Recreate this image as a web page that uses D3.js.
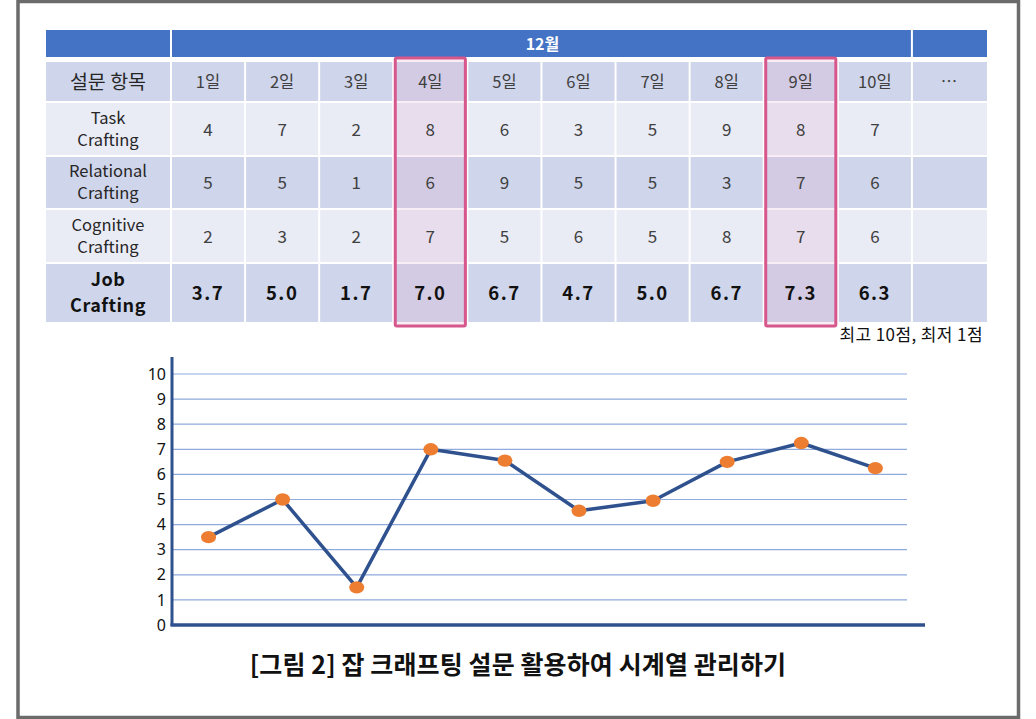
<!DOCTYPE html>
<html>
<head>
<meta charset="utf-8">
<script src="https://cdn.jsdelivr.net/npm/d3@7"></script>
<style>
  body { margin: 0; background: #fff; }
  svg { display: block; font-family: "Noto Sans CJK KR", "Noto Sans", sans-serif; }
</style>
</head>
<body>
<svg id="chart" width="1036" height="719"></svg>
<script>
// table data
var month = "12월";
var itemHeader = "설문 항목";
var days = ["1일", "2일", "3일", "4일", "5일", "6일", "7일", "8일", "9일", "10일", "…"];
var rowLabels = [["Task", "Crafting"], ["Relational", "Crafting"], ["Cognitive", "Crafting"], ["Job", "Crafting"]];
var task = [4, 7, 2, 8, 6, 3, 5, 9, 8, 7];
var relational = [5, 5, 1, 6, 9, 5, 5, 3, 7, 6];
var cognitive = [2, 3, 2, 7, 5, 6, 5, 8, 7, 6];
var jobCrafting = ["3.7", "5.0", "1.7", "7.0", "6.7", "4.7", "5.0", "6.7", "7.3", "6.3"];
var highlightDays = ["4일", "9일"];
var note = "최고 10점, 최저 1점";

// chart data (as plotted)
var plotted = [3.5, 5.0, 1.5, 7.0, 6.55, 4.55, 4.95, 6.5, 7.25, 6.25];
var yTicks = [0, 1, 2, 3, 4, 5, 6, 7, 8, 9, 10];
var caption = "[그림 2] 잡 크래프팅 설문 활용하여 시계열 관리하기";

var svg = d3.select("#chart");

// outer frame
svg.append("rect")
  .attr("x", 18).attr("y", 1.5).attr("width", 1000.5).attr("height", 716)
  .attr("fill", "#fff").attr("stroke", "#6b6b6b").attr("stroke-width", 3.5);

// columns
var x = d3.scaleBand().domain(days).range([172, 987]).paddingInner(0);
var bw = x.bandwidth();
var labelX0 = 46, labelX1 = 170;

// rows: header, day row, 4 data rows
var rowTops = [30, 62, 103, 157, 210, 264];
var rowBots = [57, 101, 155, 208, 262, 322];
var dark = "#cfd5ea", light = "#e9ebf5", blue = "#4472c4";
var rowFill = [blue, dark, light, dark, light, dark];

var table = svg.append("g");

// header row
table.append("rect").attr("x", labelX0).attr("y", rowTops[0])
  .attr("width", labelX1 - labelX0).attr("height", rowBots[0] - rowTops[0]).attr("fill", blue);
table.append("rect").attr("x", x("1일")).attr("y", rowTops[0])
  .attr("width", x("10일") + bw - 2 - x("1일")).attr("height", rowBots[0] - rowTops[0]).attr("fill", blue);
table.append("rect").attr("x", x("…")).attr("y", rowTops[0])
  .attr("width", bw).attr("height", rowBots[0] - rowTops[0]).attr("fill", blue);
table.append("text")
  .attr("x", (x("1일") + x("10일") + bw) / 2).attr("y", (rowTops[0] + rowBots[0]) / 2 + 6)
  .attr("text-anchor", "middle").attr("fill", "#fff").attr("font-weight", "bold")
  .attr("font-size", 16).text(month);

// body cells
for (var r = 1; r < 6; r++) {
  table.append("rect").attr("x", labelX0).attr("y", rowTops[r])
    .attr("width", labelX1 - labelX0).attr("height", rowBots[r] - rowTops[r]).attr("fill", rowFill[r]);
  table.selectAll(null).data(days).join("rect")
    .attr("x", function (d) { return x(d); })
    .attr("y", rowTops[r])
    .attr("width", function (d) { return d === "…" ? bw : bw - 2; })
    .attr("height", rowBots[r] - rowTops[r])
    .attr("fill", rowFill[r]);
}

// highlight tint
table.selectAll(".hl").data(highlightDays).join("rect")
  .attr("class", "hl")
  .attr("x", function (d) { return x(d) + 1; })
  .attr("y", 58).attr("width", bw - 4).attr("height", 268)
  .attr("fill", "#e6a0c8").attr("opacity", 0.18);

function cx(d) { return x(d) + (bw - 2) / 2; }
function midY(r) { return (rowTops[r] + rowBots[r]) / 2; }

// day row
table.append("text").attr("x", (labelX0 + labelX1) / 2).attr("y", midY(1) + 7)
  .attr("text-anchor", "middle").attr("font-size", 19.5).attr("fill", "#262626").text(itemHeader);
table.selectAll(null).data(days).join("text")
  .attr("x", function (d) { return cx(d); })
  .attr("y", midY(1) + 6)
  .attr("text-anchor", "middle").attr("font-size", 16.5).attr("fill", "#404040")
  .text(function (d) { return d; });

// row labels
rowLabels.forEach(function (lines, i) {
  var r = i + 2;
  var bold = i === 3;
  var fs = bold ? 18 : 16.5;
  var gap = bold ? 26 : 22;
  lines.forEach(function (ln, j) {
    table.append("text").attr("text-anchor", "middle")
      .attr("font-size", fs).attr("fill", bold ? "#111" : "#262626")
      .attr("font-weight", bold ? "bold" : "normal")
      .attr("letter-spacing", bold ? 0.5 : 0)
      .attr("x", (labelX0 + labelX1) / 2)
      .attr("y", midY(r) - gap / 2 + j * gap + fs * 0.36).text(ln);
  });
});

// values
[task, relational, cognitive, jobCrafting].forEach(function (vals, i) {
  var r = i + 2;
  var bold = i === 3;
  table.selectAll(null).data(vals).join("text")
    .attr("x", function (d, k) { return cx(days[k]); })
    .attr("y", midY(r) + 6.5)
    .attr("text-anchor", "middle")
    .attr("font-size", bold ? 18.5 : 17)
    .attr("font-weight", bold ? "bold" : "normal")
    .attr("letter-spacing", bold ? 1.5 : 0)
    .attr("fill", bold ? "#111" : "#404040")
    .text(function (d) { return d; });
});

// highlight frames
table.selectAll(".hlb").data(highlightDays).join("rect")
  .attr("class", "hlb")
  .attr("x", function (d) { return x(d) + 1; })
  .attr("y", 58).attr("width", bw - 4).attr("height", 268)
  .attr("fill", "none").attr("stroke", "#d6578c").attr("stroke-width", 3)
  .attr("rx", 1.5);

// note
svg.append("text").attr("x", 983).attr("y", 341).attr("text-anchor", "end")
  .attr("font-size", 17).attr("letter-spacing", 0.4).attr("fill", "#111").text(note);

// line chart
var y = d3.scaleLinear().domain([0, 10]).range([625, 374]);
var chart = svg.append("g");

chart.selectAll(".grid").data(yTicks.slice(1)).join("line")
  .attr("class", "grid")
  .attr("x1", 172).attr("x2", 907)
  .attr("y1", function (d) { return y(d); }).attr("y2", function (d) { return y(d); })
  .attr("stroke", "#8faadc").attr("stroke-width", 1.2);

var yAxis = chart.append("g").attr("transform", "translate(172,0)")
  .call(d3.axisLeft(y).tickValues(yTicks).tickSize(0).tickPadding(6).tickFormat(d3.format("d")));
yAxis.select(".domain").remove();
yAxis.selectAll("text").attr("font-size", 16).attr("fill", "#111")
  .attr("font-family", "'Noto Sans', sans-serif");

chart.append("line").attr("x1", 172).attr("x2", 172).attr("y1", 357).attr("y2", 626)
  .attr("stroke", "#2f528f").attr("stroke-width", 3);
chart.append("line").attr("x1", 170.5).attr("x2", 925).attr("y1", 625).attr("y2", 625)
  .attr("stroke", "#2f528f").attr("stroke-width", 3.5);

var line = d3.line()
  .x(function (d, i) { return cx(days[i]) + 0.5; })
  .y(function (d) { return y(d); });

chart.append("path").datum(plotted)
  .attr("d", line).attr("fill", "none")
  .attr("stroke", "#2f528f").attr("stroke-width", 3.5).attr("stroke-linejoin", "round");

chart.selectAll(".pt").data(plotted).join("ellipse")
  .attr("class", "pt")
  .attr("cx", function (d, i) { return cx(days[i]) + 0.5; })
  .attr("cy", function (d) { return y(d); })
  .attr("rx", 7.5).attr("ry", 6.2)
  .attr("fill", "#ed7d31");

// caption
svg.append("text").attr("x", 518).attr("y", 674).attr("text-anchor", "middle")
  .attr("font-size", 25).attr("font-weight", "bold").attr("fill", "#111")
  .attr("letter-spacing", 0.1).text(caption);
</script>
</body>
</html>
